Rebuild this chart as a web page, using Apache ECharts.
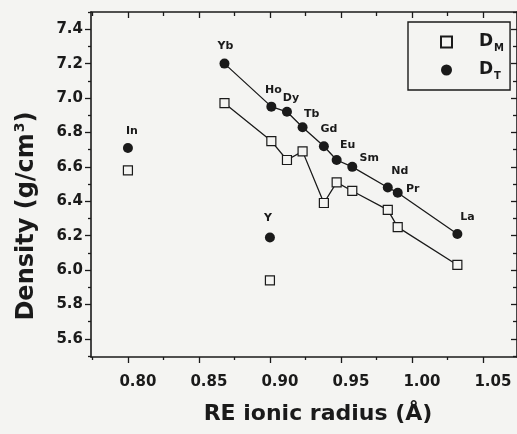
<!DOCTYPE html>
<html>
<head>
<meta charset="utf-8">
<script src="https://cdn.jsdelivr.net/npm/echarts@6/dist/echarts.min.js"></script>
<style>
  html, body { margin: 0; padding: 0; background: #f4f4f2; }
  #chart { width: 517px; height: 434px; }
</style>
</head>
<body>
<div id="chart"></div>
<script>
// ---- data ----
const ELEMENTS      = ['In', 'Yb', 'Ho', 'Dy', 'Y', 'Tb', 'Gd', 'Eu', 'Sm', 'Nd', 'Pr', 'La'];
const IONIC_RADIUS  = [0.800, 0.868, 0.901, 0.912, 0.900, 0.923, 0.938, 0.947, 0.958, 0.983, 0.990, 1.032];
const DENSITY_T     = [6.71, 7.20, 6.95, 6.92, 6.19, 6.83, 6.72, 6.64, 6.60, 6.48, 6.45, 6.21];
const DENSITY_M     = [6.58, 6.97, 6.75, 6.64, 5.94, 6.69, 6.39, 6.51, 6.46, 6.35, 6.25, 6.03];
const LINKED        = ['Yb', 'Ho', 'Dy', 'Tb', 'Gd', 'Eu', 'Sm', 'Nd', 'Pr', 'La'];
const SERIES_NAMES  = ['D_M', 'D_T'];
const X_MAJOR_TICKS = [0.80, 0.85, 0.90, 0.95, 1.00, 1.05];
const X_MINOR_TICKS = [0.775, 0.825, 0.875, 0.925, 0.975, 1.025];
const Y_MAJOR_TICKS = [5.6, 5.8, 6.0, 6.2, 6.4, 6.6, 6.8, 7.0, 7.2, 7.4];
const Y_MINOR_TICKS = [5.5, 5.7, 5.9, 6.1, 6.3, 6.5, 6.7, 6.9, 7.1, 7.3, 7.5];

// ---- styling ----
const INK = '#1a1a1a';
const BG = '#f4f4f2';
const FONT = 'DejaVu Sans';
const X_MIN = 0.774, X_MAX = 1.074, Y_MIN = 5.495, Y_MAX = 7.5;
const LABEL_OFFSET = {
  In: [4, -17], Yb: [1, -17], Ho: [2, -16], Dy: [4, -14], Y: [-2, -19], Tb: [9, -13],
  Gd: [5, -17], Eu: [11, -15], Sm: [17, -9], Nd: [12, -16], Pr: [15, -4], La: [10, -17]
};

const pts = (vals) => ELEMENTS.map((el, i) => ({ name: el, value: [IONIC_RADIUS[i], vals[i]] }));
const linked = (vals) => LINKED.map(el => { const i = ELEMENTS.indexOf(el); return [IONIC_RADIUS[i], vals[i]]; });

function xAxisDef(pos, ticks, len, major, line) {
  return {
    type: 'value', position: pos, min: X_MIN, max: X_MAX,
    axisLine: { show: line, onZero: false, lineStyle: { color: INK, width: 1.6 } },
    axisTick: { show: true, inside: pos === 'top', length: len, customValues: ticks, lineStyle: { color: INK, width: 1.3 } },
    axisLabel: (major && pos === 'bottom') ? {
      show: true, customValues: ticks, margin: 18, padding: [0, 0, 0, 20],
      color: INK, fontFamily: FONT, fontWeight: 'bold', fontSize: 15,
      formatter: v => v.toFixed(2)
    } : { show: false },
    splitLine: { show: false }
  };
}
function yAxisDef(pos, ticks, len, major, line) {
  return {
    type: 'value', position: pos, min: Y_MIN, max: Y_MAX,
    axisLine: { show: line, onZero: false, lineStyle: { color: INK, width: 1.6 } },
    axisTick: { show: true, inside: pos === 'right', length: len, customValues: ticks, lineStyle: { color: INK, width: 1.3 } },
    axisLabel: (major && pos === 'left') ? {
      show: true, customValues: ticks, margin: 8,
      color: INK, fontFamily: FONT, fontWeight: 'bold', fontSize: 15,
      formatter: v => v.toFixed(1)
    } : { show: false },
    splitLine: { show: false }
  };
}

const xAxes = [
  xAxisDef('bottom', X_MAJOR_TICKS, 6, true, true),
  xAxisDef('bottom', X_MINOR_TICKS, 3, false, false),
  xAxisDef('top', X_MAJOR_TICKS, 6, true, true),
  xAxisDef('top', X_MINOR_TICKS, 4, false, false)
];
xAxes[0].name = 'RE ionic radius (Å)';
xAxes[0].nameLocation = 'middle';
xAxes[0].nameGap = 46;
xAxes[0].nameTextStyle = { color: INK, fontFamily: FONT, fontWeight: 'bold', fontSize: 22, padding: [0, 0, 0, 28] };

const yAxes = [
  yAxisDef('left', Y_MAJOR_TICKS, 6, true, true),
  yAxisDef('left', Y_MINOR_TICKS, 3, false, false),
  yAxisDef('right', Y_MAJOR_TICKS, 6, true, true),
  yAxisDef('right', Y_MINOR_TICKS, 4, false, false)
];
yAxes[0].name = '{a|Density (g/cm}{sup|3}{a|)}';
yAxes[0].nameLocation = 'middle';
yAxes[0].nameGap = 50;
yAxes[0].nameTextStyle = {
  color: INK, fontFamily: FONT, fontWeight: 'bold', fontSize: 24, padding: [0, 63, 0, 0],
  rich: {
    a: { color: INK, fontFamily: FONT, fontWeight: 'bold', fontSize: 24, lineHeight: 28 },
    sup: { color: INK, fontFamily: FONT, fontWeight: 'bold', fontSize: 14, lineHeight: 28, verticalAlign: 'top', padding: [0, 0, 13, 1] }
  }
};

const chart = echarts.init(document.getElementById('chart'), null, { renderer: 'canvas' });
chart.setOption({
  backgroundColor: BG,
  animation: false,
  grid: { left: 91, right: 0, top: 12, bottom: 77, containLabel: false },
  xAxis: xAxes,
  yAxis: yAxes,
  legend: {
    data: SERIES_NAMES,
    orient: 'vertical',
    left: 408, top: 22,
    padding: [10, 6, 9, 32],
    itemWidth: 11, itemHeight: 11, itemGap: 7,
    borderColor: INK, borderWidth: 1.4, borderRadius: 0,
    formatter: name => '{d|D}{s|' + name.split('_')[1] + '}',
    textStyle: {
      color: INK,
      rich: {
        d: { fontFamily: FONT, fontWeight: 'bold', fontSize: 17, color: INK, lineHeight: 22, padding: [0, 0, 0, 22] },
        s: { fontFamily: FONT, fontWeight: 'bold', fontSize: 10, color: INK, lineHeight: 22, verticalAlign: 'bottom', padding: [11, 0, 0, 1] }
      }
    }
  },
  series: [
    {
      name: 'D_M line', type: 'line', data: linked(DENSITY_M), showSymbol: false, symbol: 'none',
      lineStyle: { color: INK, width: 1.3 }, z: 2, silent: true
    },
    {
      name: 'D_T line', type: 'line', data: linked(DENSITY_T), showSymbol: false, symbol: 'none',
      lineStyle: { color: INK, width: 1.3 }, z: 2, silent: true
    },
    {
      name: SERIES_NAMES[0], type: 'scatter', data: pts(DENSITY_M), symbol: 'rect', symbolSize: 9,
      itemStyle: { color: BG, borderColor: INK, borderWidth: 1.2, opacity: 1 }, z: 3
    },
    {
      name: SERIES_NAMES[1], type: 'scatter', data: pts(DENSITY_T).map(d => ({
        ...d,
        label: { offset: LABEL_OFFSET[d.name] }
      })), symbol: 'circle', symbolSize: 10,
      itemStyle: { color: INK, opacity: 1 }, z: 4,
      label: {
        show: true, position: 'inside', formatter: p => p.name,
        color: INK, fontFamily: FONT, fontWeight: 'bold', fontSize: 11
      }
    }
  ]
});
</script>
</body>
</html>
